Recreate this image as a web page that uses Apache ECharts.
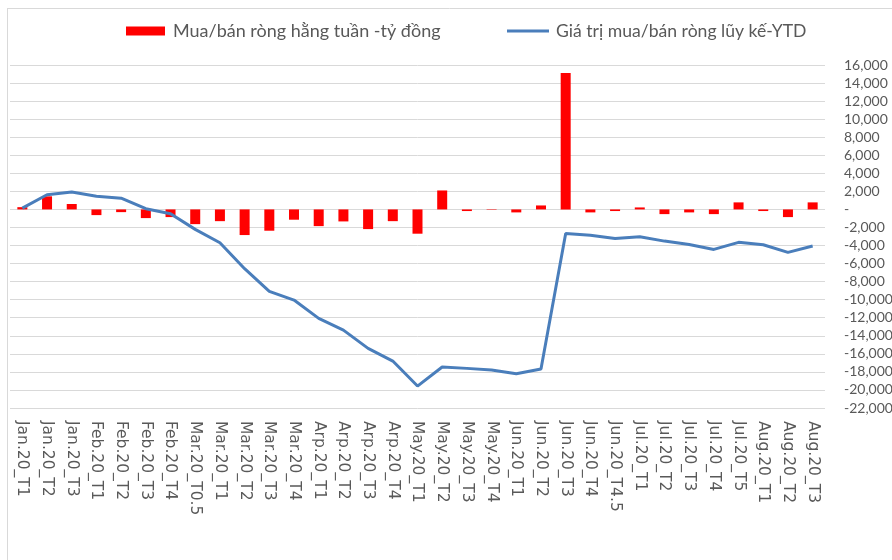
<!DOCTYPE html>
<html>
<head>
<meta charset="utf-8">
<script src="https://cdn.jsdelivr.net/npm/echarts@6/dist/echarts.min.js"></script>
<style>
  html, body { margin: 0; padding: 0; background: #fff; }
  #chart { width: 892px; height: 560px; }
</style>
</head>
<body>
<div id="chart"></div>
<script>
  // tuần giao dịch
  var weeks = ['Jan.20_T1', 'Jan.20_T2', 'Jan.20_T3', 'Feb.20_T1', 'Feb.20_T2', 'Feb.20_T3', 'Feb.20_T4',
    'Mar.20_T0.5', 'Mar.20_T1', 'Mar.20_T2', 'Mar.20_T3', 'Mar.20_T4', 'Arp.20_T1', 'Arp.20_T2', 'Arp.20_T3',
    'Arp.20_T4', 'May.20_T1', 'May.20_T2', 'May.20_T3', 'May.20_T4', 'Jun.20_T1', 'Jun.20_T2', 'Jun.20_T3',
    'Jun.20_T4', 'Jun.20_T4.5', 'Jul.20_T1', 'Jul.20_T2', 'Jul.20_T3', 'Jul.20_T4', 'Jul.20_T5',
    'Aug.20_T1', 'Aug.20_T2', 'Aug.20_T3']
  // mua/bán ròng hằng tuần (tỷ đồng)
  var weeklyNet = [250, 1450, 600, -630, -300, -960, -850, -1630, -1300, -2840, -2360, -1140, -1850, -1330, -2180,
    -1300, -2690, 2100, -180, -50, -330, 440, 15100, -330, -180, 220, -520, -330, -520, 780, -180, -850, 780]
  // lũy kế YTD
  var ytd = [150, 1630, 1920, 1470, 1250, 80, -480, -2210, -3690, -6570, -9080, -10040, -12070, -13370, -15390,
    -16800, -19570, -17460, -17610, -17790, -18200, -17690, -2660, -2850, -3210, -3030, -3510, -3880, -4430,
    -3650, -3910, -4760, -4060]
  var barName = 'Mua/bán ròng hằng tuần -tỷ đồng'
  var lineName = 'Giá trị mua/bán ròng lũy kế-YTD'
  var yMin = -22000, yMax = 16000, yStep = 2000

  var grey = '#595959'
  var chart = echarts.init(document.getElementById('chart'))
  var option = {
    animation: false,
    backgroundColor: '#fff',
    textStyle: { fontFamily: 'Lato' },
    grid: { left: 10, right: 67, top: 65, bottom: 152, outerBoundsMode: 'none' },
    legend: [{
      left: 126, top: 22, padding: 0,
      itemWidth: 39, itemHeight: 9,
      data: [{ name: barName, icon: 'rect' }],
      textStyle: { color: grey, fontSize: 18, fontFamily: 'Lato', padding: [0, 0, 0, 3] }
    }, {
      left: 507, top: 22, padding: 0,
      itemWidth: 42, itemHeight: 3,
      data: [{ name: lineName, icon: 'rect' }],
      textStyle: { color: grey, fontSize: 17.6, fontFamily: 'Lato', padding: [0, 0, 0, 2] }
    }],
    xAxis: {
      type: 'category',
      data: weeks,
      axisLine: { show: false },
      axisTick: { show: false },
      axisLabel: {
        rotate: -90,
        interval: 0,
        margin: 13,
        color: grey,
        fontSize: 15.5,
        fontFamily: 'DejaVu Sans'
      }
    },
    yAxis: {
      type: 'value',
      position: 'right',
      min: yMin, max: yMax, interval: yStep,
      axisLine: { show: false },
      axisTick: { show: false },
      splitLine: { lineStyle: { color: '#d9d9d9', width: 1 } },
      axisLabel: {
        margin: 19,
        align: 'left',
        color: grey,
        fontSize: 14,
        fontFamily: 'Lato',
        formatter: function (v) { return v === 0 ? '-' : v.toLocaleString('en-US') }
      }
    },
    series: [{
      name: barName,
      type: 'bar',
      barWidth: 10,
      itemStyle: { color: '#ff0000' },
      data: weeklyNet
    }, {
      name: lineName,
      type: 'line',
      symbol: 'none',
      lineStyle: { color: '#4a7ebb', width: 3 },
      itemStyle: { color: '#4a7ebb' },
      data: ytd
    }],
    graphic: [{
      type: 'line', silent: true,
      shape: { x1: 7.5, y1: 8, x2: 7.5, y2: 560 },
      style: { stroke: '#d9d9d9', lineWidth: 1 }
    }, {
      type: 'line', silent: true,
      shape: { x1: 7, y1: 8.5, x2: 892, y2: 8.5 },
      style: { stroke: '#d9d9d9', lineWidth: 1 }
    }]
  }
  chart.setOption(option)
</script>
</body>
</html>
